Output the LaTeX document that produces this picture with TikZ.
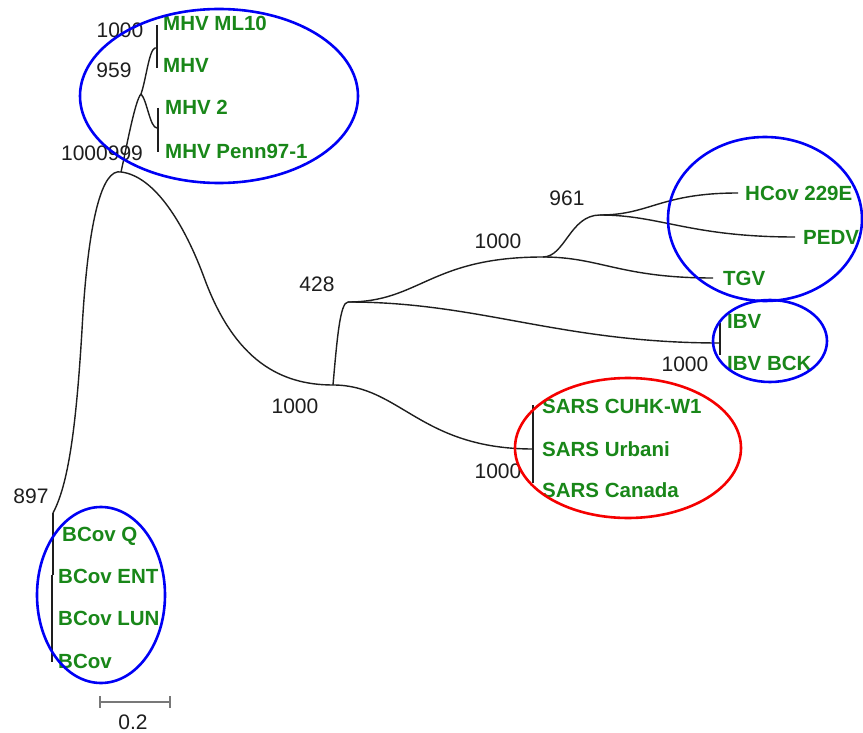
\documentclass[tikz,border=0pt]{standalone}
\usepackage{fontspec}
\setmainfont{Liberation Sans}
\begin{document}
\definecolor{leafgreen}{RGB}{25,135,25}
\definecolor{clusterblue}{RGB}{0,0,245}
\definecolor{clusterred}{RGB}{245,0,0}
\definecolor{branchgray}{RGB}{30,30,30}
\definecolor{scalegray}{RGB}{120,120,120}
\begin{tikzpicture}[x=1pt,y=-1pt,
  branch/.style={draw=branchgray,line width=1.4pt},
  leaf/.style={anchor=base west,inner sep=0pt,text=leafgreen,font=\fontsize{20.5}{24}\selectfont\bfseries},
  boot/.style={anchor=base,inner sep=0pt,text=branchgray,font=\fontsize{21}{25}\selectfont},
  cluster/.style={line width=2.6pt}]
\useasboundingbox (0,0) rectangle (863,733);
\fill[white] (0,0) rectangle (863,733);

% internal nodes of the tree
\coordinate (root) at (121,172);
\coordinate (mhvA) at (141,94);
\coordinate (mhvB) at (155,48);
\coordinate (mhvC) at (157,128);
\coordinate (bcov) at (53,513);
\coordinate (n1000) at (333,385);
\coordinate (n428) at (348,302);
\coordinate (nGrp) at (543,257);
\coordinate (n961) at (600,215);
\coordinate (ibv) at (720,343);
\coordinate (sars) at (533,449);

% tips
\coordinate (tHcov) at (738,193);
\coordinate (tPedv) at (795,237);
\coordinate (tTgv) at (713,278);

% branches
\draw[branch] (root) .. controls (102,168) and (88,220) .. (82,330)
              .. controls (76,430) and (68,485) .. (bcov);
\draw[branch] (root) .. controls (155,176) and (185,225) .. (205,280)
              .. controls (235,360) and (280,385) .. (n1000);
\draw[branch] (root) .. controls (126,150) and (135,100) .. (mhvA);
\draw[branch] (mhvA) .. controls (146,80) and (149,50) .. (mhvB) -- (157,48);
\draw[branch] (mhvA) .. controls (147,100) and (150,128) .. (mhvC) -- (158,128);
\draw[branch] (157,25) -- (157,68);
\draw[branch] (158,108) -- (158,152);
\draw[branch] (n1000) .. controls (337,340) and (340,302) .. (n428);
\draw[branch] (n428) .. controls (420,302) and (430,257) .. (nGrp);
\draw[branch] (nGrp) .. controls (565,257) and (570,215) .. (n961);
\draw[branch] (n961) .. controls (650,215) and (660,193) .. (tHcov);
\draw[branch] (n961) .. controls (660,215) and (690,237) .. (tPedv);
\draw[branch] (nGrp) .. controls (600,257) and (620,278) .. (tTgv);
\draw[branch] (n428) .. controls (480,302) and (560,343) .. (ibv);
\draw[branch] (720,323) -- (720,355);
\draw[branch] (n1000) .. controls (400,385) and (420,449) .. (sars);
\draw[branch] (533,405) -- (533,483);
\draw[branch] (bcov) -- (53,575);
\draw[branch] (52,575) -- (52,662);

% bootstrap values
\node[boot] (b1000a) at (120,38) {1000};
\node[boot] (b959) at (114,78) {959};
\node[boot] (b1000b) at (102,161) {1000999};
\node[boot] (b428) at (317,291) {428};
\node[boot] (b1000c) at (295,413) {1000};
\node[boot] (b1000d) at (498,248) {1000};
\node[boot] (b961) at (567,206) {961};
\node[boot] (b1000e) at (685,371) {1000};
\node[boot] (b1000f) at (498,478) {1000};
\node[boot] (b897) at (31,503) {897};

% leaf labels
\node[leaf] (lMl10) at (163,31) {MHV ML10};
\node[leaf] (lMhv) at (163,73) {MHV};
\node[leaf] (lMhv2) at (165,115) {MHV 2};
\node[leaf] (lPenn) at (165,159) {MHV Penn97-1};
\node[leaf] (lHcov) at (745,201) {HCov 229E};
\node[leaf] (lPedv) at (803,244) {PEDV};
\node[leaf] (lTgv) at (723,285) {TGV};
\node[leaf] (lIbv) at (727,328) {IBV};
\node[leaf] (lIbvB) at (727,370) {IBV BCK};
\node[leaf] (lCuhk) at (542,413) {SARS CUHK-W1};
\node[leaf] (lUrb) at (542,456) {SARS Urbani};
\node[leaf] (lCan) at (542,497) {SARS Canada};
\node[leaf] (lBq) at (62,541) {BCov Q};
\node[leaf] (lBent) at (58,583) {BCov ENT};
\node[leaf] (lBlun) at (58,625) {BCov LUN};
\node[leaf] (lB) at (58,668) {BCov};

% cluster outlines
\draw[cluster,clusterblue] (219,96) ellipse [x radius=139pt, y radius=87pt];
\draw[cluster,clusterblue] (765,219) ellipse [x radius=97pt, y radius=82pt];
\draw[cluster,clusterblue] (770,341) ellipse [x radius=57pt, y radius=41pt];
\draw[cluster,clusterred] (628,448) ellipse [x radius=113pt, y radius=70pt];
\draw[cluster,clusterblue] (101,595) ellipse [x radius=64pt, y radius=88pt];

% scale bar
\coordinate (sL) at (100,702);
\coordinate (sR) at (170,702);
\draw[scalegray,line width=1.2pt] (sL) -- (sR);
\draw[scalegray,line width=1.2pt] (100,696) -- (100,708);
\draw[scalegray,line width=1.2pt] (170,696) -- (170,708);
\node[boot] (scale) at (133,729) {0.2};
\end{tikzpicture}
\end{document}
